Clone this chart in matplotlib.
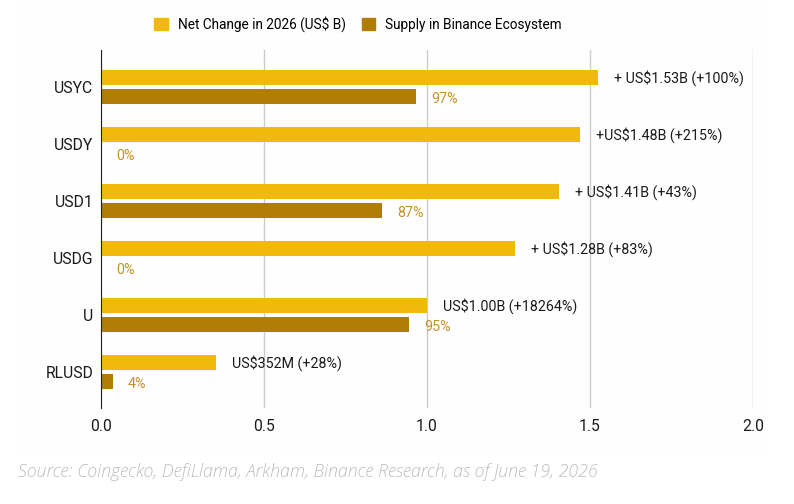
import matplotlib
matplotlib.use("Agg")
import matplotlib.pyplot as plt
import numpy as np
from matplotlib.patches import Rectangle, Patch

# data
coins = ["USYC", "USDY", "USD1", "USDG", "U", "RLUSD"]
net_change = [1.525, 1.47, 1.405, 1.27, 1.00, 0.352]
binance_share = [0.966, 0.0, 0.862, 0.0, 0.945, 0.037]
net_labels = ["+ US$1.53B (+100%)", "+US$1.48B (+215%)", "+ US$1.41B (+43%)",
              "+ US$1.28B (+83%)", "US$1.00B (+18264%)", "US$352M (+28%)"]
share_labels = ["97%", "0%", "87%", "0%", "95%", "4%"]

gold = "#F0B90B"
brown = "#B07D05"
pct_color = "#C4912A"

plt.rcParams["font.family"] = ["Roboto", "DejaVu Sans"]

fig = plt.figure(figsize=(7.94, 5.04), dpi=100)
bg = Rectangle((18 / 794, 1 - 455 / 504), 747 / 794, 455 / 504,
               transform=fig.transFigure, facecolor="#fefefe",
               edgecolor="none", zorder=-10)
fig.add_artist(bg)
ax = fig.add_axes([101 / 794, 1 - 408 / 504, 652 / 794, 358 / 504])
ax.set_facecolor("none")

y = np.arange(len(coins))
h = 0.27
off = 0.165
ax.barh(y - off, net_change, height=h, color=gold, zorder=3)
ax.barh(y + off, binance_share, height=h, color=brown, zorder=3)

px = 2.0 / 652  # data units per pixel
for i in range(len(coins)):
    ax.text(net_change[i] + 16 * px, y[i] - off, net_labels[i], va="center",
            ha="left", fontsize=10.3, color="#1a1a1a")
    ax.text(binance_share[i] + 15 * px, y[i] + off + 0.04, share_labels[i],
            va="center", ha="left", fontsize=10.3, color=pct_color)

ax.set_xlim(0, 2.0)
ax.set_ylim(5.63, -0.65)
ax.set_xticks([0, 0.5, 1.0, 1.5, 2.0])
ax.set_xticklabels(["0.0", "0.5", "1.0", "1.5", "2.0"])
ax.set_yticks(y)
ax.set_yticklabels(coins)
ax.tick_params(axis="both", length=0, labelsize=11.3, colors="#1a1a1a")
ax.tick_params(axis="x", pad=8)
ax.tick_params(axis="y", pad=5.5)
ax.grid(axis="x", color="#cccccc", lw=1, zorder=0)
for s in ["top", "right", "bottom"]:
    ax.spines[s].set_visible(False)
ax.spines["left"].set_color("#222222")
ax.spines["left"].set_zorder(4)

handles = [Patch(color=gold, label="Net Change in 2026 (US$ B)"),
           Patch(color=brown, label="Supply in Binance Ecosystem")]
fig.legend(handles=handles, loc="center", bbox_to_anchor=(358 / 794, 1 - 24 / 504),
           ncol=2, frameon=False, fontsize=9.8, handlelength=1.0, handleheight=1.0,
           columnspacing=1.2, handletextpad=0.7)

fig.text(18 / 794, 1 - 472 / 504,
         "Source: Coingecko, DefiLlama, Arkham, Binance Research, as of June 19, 2026",
         fontsize=12.8, style="italic", fontweight="light", color="#bdbdbd",
         family=["Open Sans", "DejaVu Sans"], va="center", ha="left")

fig.savefig("out.png", dpi=100)
